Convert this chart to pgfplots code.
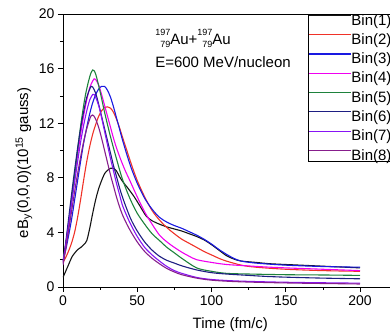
\documentclass[border=0pt]{standalone}
\usepackage{fontspec}
\setmainfont{Liberation Sans}
\usepackage{pgfplots}
\pgfplotsset{compat=1.18}
\definecolor{cBlack}{RGB}{20,20,20}
\definecolor{cRed}{RGB}{240,50,40}
\definecolor{cBlue}{RGB}{25,25,225}
\definecolor{cMag}{RGB}{240,0,240}
\definecolor{cGreen}{RGB}{30,130,60}
\definecolor{cNavy}{RGB}{30,30,130}
\definecolor{cViolet}{RGB}{135,20,245}
\definecolor{cPurple}{RGB}{135,30,140}
\newsavebox\isobox
\newcommand\iso[3]{\sbox\isobox{\fontsize{9}{9}\selectfont #1}\rlap{\raisebox{0.6em}{\usebox\isobox}}\makebox[\wd\isobox][r]{\raisebox{-0.2em}{\fontsize{9}{9}\selectfont #2}}#3}
\newcommand\legpad[1]{\makebox[60pt][l]{\rule[-3pt]{0pt}{12pt}#1}}
\begin{document}
\begin{tikzpicture}
\begin{axis}[name=ax, scale only axis, width=341.55pt, height=273pt,
  xmin=0, xmax=230, ymin=0, ymax=20,
  xtick={0,50,100,150,200}, ytick={0,4,8,12,16,20},
  minor x tick num=1, minor y tick num=1,
  tick align=outside, tick pos=left,
  major tick length=5pt, minor tick length=3pt,
  axis line style={line width=0.7pt}, every tick/.style={line width=0.7pt, black},
  /pgf/number format/assume math mode=true,
  ticklabel style={font=\fontsize{14}{16}\selectfont},
  xlabel={Time (fm/c)},
  ylabel={eB\textsubscript{y}(0,0,0)(10\textsuperscript{15} gauss)},
  every axis x label/.style={at={(rel axis cs:0.49,0)}, anchor=center, yshift=-38pt, font=\fontsize{15}{17}\selectfont},
  every axis y label/.style={at={(rel axis cs:0,0.455)}, anchor=center, rotate=90, yshift=39pt, font=\fontsize{15}{17}\selectfont},
  legend cell align=left,
  legend style={at={(0.7174,1)}, anchor=north west, draw=black, line width=0.6pt, fill=white,
    font=\fontsize{15}{16}\selectfont, row sep=6.9pt, column sep=0pt, inner sep=0pt,
    nodes={inner sep=0pt}},
  legend image code/.code={\path (0pt,5pt) -- (42pt,5pt); \draw[#1, line width=1.1pt] (9pt,5pt) -- (40pt,5pt);},
  every axis plot/.append style={line width=1.1pt, smooth, tension=0.5},
]
% Bin(1)
\addplot[cBlack] coordinates {(0,0.7) (2,1.2) (4,1.7) (6,2.2) (8,2.5) (10,2.75) (12,2.9) (14,3.1) (16,3.4) (18,4.3) (20,5.4) (22,6.4) (24,7.2) (26,7.8) (28,8.3) (30,8.55) (32,8.7) (34,8.7) (36,8.5) (38,8.1) (40,7.75) (44,7.2) (48,6.6) (52,5.9) (56,5.2) (60,4.85) (65,4.6) (70,4.4) (75,4.25) (80,4.1) (85,3.9) (90,3.7) (95,3.45) (100,3.1) (105,2.7) (110,2.3) (115,2.05) (120,1.9) (130,1.8) (140,1.7) (160,1.6) (180,1.5) (200,1.4)};
% Bin(2)
\addplot[cRed] coordinates {(0,1.8) (2,2.2) (4,2.7) (6,3.3) (8,4.1) (10,5.2) (12,6.5) (14,7.9) (16,9.2) (18,10.3) (20,11.2) (22,11.9) (24,12.5) (26,12.9) (28,13.15) (30,13.2) (32,13.1) (34,12.8) (36,12.3) (38,11.7) (40,11.0) (43,10.0) (46,9.0) (50,7.8) (55,6.6) (60,5.6) (65,4.9) (70,4.35) (75,3.9) (80,3.5) (85,3.2) (90,2.9) (95,2.6) (100,2.35) (105,2.1) (110,1.9) (120,1.6) (130,1.45) (150,1.3) (175,1.2) (200,1.15)};
% Bin(3)
\addplot[cBlue] coordinates {(0,1.9) (2,2.8) (4,3.9) (6,5.1) (8,6.5) (10,7.9) (12,9.3) (14,10.6) (16,11.7) (18,12.7) (20,13.5) (22,14.1) (24,14.5) (26,14.7) (28,14.7) (30,14.4) (32,13.9) (34,13.2) (36,12.4) (38,11.6) (40,10.8) (43,9.7) (46,8.7) (50,7.6) (55,6.5) (60,5.7) (65,5.1) (70,4.75) (75,4.5) (80,4.3) (85,4.05) (90,3.8) (95,3.5) (100,3.15) (105,2.75) (110,2.4) (115,2.1) (120,1.9) (130,1.75) (150,1.6) (175,1.5) (200,1.45)};
% Bin(4)
\addplot[cMag] coordinates {(0,1.8) (2,3.2) (4,4.8) (6,6.5) (8,8.2) (10,9.8) (12,11.3) (14,12.6) (16,13.7) (18,14.6) (20,15.1) (21,15.25) (22,15.2) (24,14.8) (26,14.1) (28,13.3) (30,12.5) (32,11.7) (34,10.9) (36,10.2) (39,9.3) (42,8.5) (45,7.8) (50,6.6) (55,5.5) (60,4.6) (65,3.8) (70,3.3) (75,2.9) (80,2.55) (85,2.25) (90,2.0) (100,1.8) (110,1.65) (124,1.55) (136,1.47) (150,1.4) (175,1.3) (200,1.2)};
% Bin(5)
\addplot[cGreen] coordinates {(0,1.9) (3,4.0) (6,6.6) (9,9.3) (12,11.9) (15,14.0) (18,15.4) (20,15.9) (22,15.6) (25,14.3) (28,12.8) (32,11.0) (36,9.4) (40,7.9) (45,6.5) (50,5.4) (55,4.6) (60,3.9) (65,3.4) (70,2.9) (75,2.5) (80,2.1) (90,1.4) (100,1.15) (110,1.0) (125,0.95) (150,0.9) (175,0.88) (200,0.85)};
% Bin(6)
\addplot[cNavy] coordinates {(0,1.7) (2,3.4) (4,5.2) (6,7.0) (8,8.7) (10,10.3) (12,11.7) (14,12.9) (16,13.9) (18,14.5) (19,14.7) (20,14.65) (22,14.2) (24,13.4) (26,12.5) (28,11.6) (30,10.7) (32,9.8) (34,8.9) (36,8.1) (38,7.3) (40,6.6) (43,5.7) (46,4.9) (50,4.1) (55,3.3) (60,2.7) (65,2.25) (70,1.95) (75,1.75) (80,1.55) (90,1.25) (100,1.05) (110,0.95) (125,0.85) (136,0.78) (150,0.72) (175,0.65) (200,0.6)};
% Bin(7)
\addplot[cViolet] coordinates {(0,1.8) (2,3.2) (4,4.7) (6,6.3) (8,7.8) (10,9.3) (12,10.7) (14,11.9) (16,12.9) (18,13.7) (20,14.1) (21,14.1) (22,13.9) (24,13.3) (26,12.4) (28,11.4) (30,10.4) (32,9.4) (34,8.5) (36,7.6) (38,6.8) (40,6.0) (43,5.2) (46,4.5) (50,3.7) (55,2.9) (60,2.35) (65,1.9) (70,1.5) (75,1.2) (80,1.0) (90,0.7) (100,0.55) (115,0.45) (136,0.38) (160,0.33) (200,0.28)};
% Bin(8)
\addplot[cPurple] coordinates {(0,1.6) (2,2.9) (4,4.3) (6,5.7) (8,7.1) (10,8.4) (12,9.6) (14,10.7) (16,11.6) (18,12.3) (19,12.55) (20,12.6) (21,12.5) (22,12.3) (24,11.7) (26,10.9) (28,10.0) (30,9.1) (32,8.2) (34,7.4) (36,6.6) (38,5.9) (40,5.3) (43,4.6) (46,4.0) (50,3.3) (55,2.6) (60,2.1) (65,1.7) (70,1.35) (75,1.1) (80,0.9) (90,0.65) (100,0.5) (115,0.4) (136,0.33) (160,0.28) (200,0.22)};
\legend{\legpad{Bin(1)},\legpad{Bin(2)},\legpad{Bin(3)},\legpad{Bin(4)},\legpad{Bin(5)},\legpad{Bin(6)},\legpad{Bin(7)},\legpad{Bin(8)}}
\node[anchor=base west, font=\fontsize{15}{17}\selectfont, inner sep=0pt] at (axis cs:62,17.75) {\iso{197}{79}{Au}+\iso{197}{79}{Au}};
\node[anchor=base west, font=\fontsize{15}{17}\selectfont, inner sep=0pt] at (axis cs:62,16.1) {E=600 MeV/nucleon};
\end{axis}
\pgfresetboundingbox
\path[use as bounding box] ([shift={(-63pt,-49pt)}]ax.south west) rectangle ([shift={(327pt,14pt)}]ax.north west);
\end{tikzpicture}
\end{document}
